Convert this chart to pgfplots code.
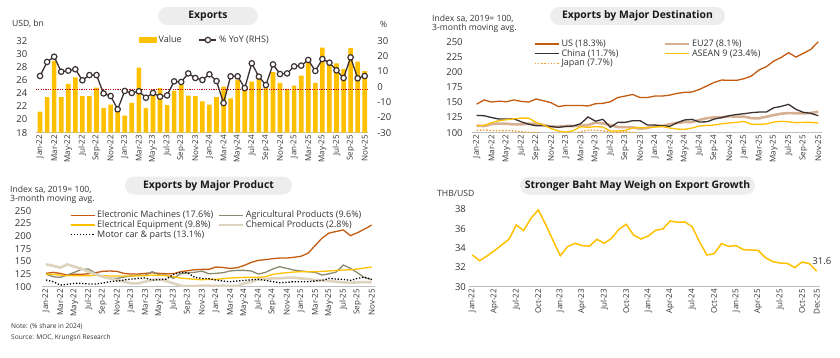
\documentclass[border=0pt]{standalone}
\usepackage{fontspec}
\setmainfont{Open Sans}
\usepackage{pgfplots}
\usepackage{pgfplotstable}
\pgfplotsset{compat=1.18}

\definecolor{gold}{HTML}{FFC000}
\definecolor{darkln}{HTML}{3B3131}
\definecolor{usorange}{HTML}{C55A11}
\definecolor{eutan}{HTML}{D6B092}
\definecolor{japan}{HTML}{ED9A2C}
\definecolor{agri}{HTML}{8B8A6E}
\definecolor{chem}{HTML}{DDD3BE}
\definecolor{titlebg}{HTML}{EDEDED}
\definecolor{axisgray}{HTML}{BFBFBF}
\definecolor{txt}{HTML}{333333}

\pgfplotstableread{
v y
21.2 7.1
23.45 16.3
28.95 19.7
23.45 9.9
25.45 10.6
26.45 11.5
23.6 4.3
23.6 7.7
24.9 7.7
21.8 -4.3
22.3 -6.0
21.6 -14.7
20.6 -2.7
22.55 -4.0
27.95 -2.9
21.8 -7.1
24.0 -4.0
24.8 -6.4
22.2 -5.6
24.4 3.6
25.3 3.2
23.65 8.8
23.6 5.8
22.8 4.5
22.3 8.2
23.45 3.8
25.05 -10.6
23.25 6.9
26.1 6.9
24.6 -0.8
25.8 15.4
26.2 6.7
25.6 1.2
27.25 14.7
25.6 8.4
24.7 8.8
25.2 13.4
26.7 13.9
28.8 17.6
25.6 10.4
31.0 18.2
28.3 15.8
28.6 10.8
27.7 5.8
30.9 19.3
28.85 5.6
27.4 7.1
}\exportsdata

\pgfplotstableread{
us eu cn as jp
147 111.5 128.6 112 104
154 111 128 112 104.5
150.5 114 125 116.5 103.5
152 115 122.5 119.8 103.5
151 114.8 122.5 121.4 103.5
154 113.7 123 123 103
151.6 113.7 118 124 101.5
150.5 114.8 114 124 100.5
155.5 114.8 111.5 117 100.2
152.7 112.6 111.5 112.6 98
149.5 110 110.4 107 96
143 110 108.8 102.7 95
145 111 110.4 101 95
145 111 111 103.3 97
145 111.5 114.8 110 102
144 112.6 126 108.8 104
147.8 116.5 119 110 104
148.4 115.4 122 109.3 103
151 112.6 109 102.7 101
158 109.3 117 102.7 100.5
160.4 109.3 117 103.8 101.5
163 108.8 119.8 107.7 100.3
158 106.6 119.8 108.2 98
158 108 112.6 108.2 97
160.4 111 112.6 109.3 96
160.4 111 111.5 110.4 95
162 114 110.4 107.7 95
164.8 116 116.5 106 94
166.5 117.6 121 105.5 94
167 117.6 122 107.7 94
171.4 121 117.6 111 94
177 124 118 112 94
183 125.3 122.5 112.6 94
186.8 125.3 125 114.8 94
186.3 127 128 116 94
186.3 126.4 130 117 94
189 126.4 131.3 118.7 94
193.4 124 133 114 94
203.3 123.6 134 113.7 94
208.8 126.4 134 114.3 94
218 129 141 117.6 94
224 131.3 143.4 118.7 94
231.9 132.4 146.7 118 94
224.7 132 138.5 116.5 94
230.8 132 133.5 117 94
237.4 132.4 132 117 94
250 134.6 128 116 94
}\destdata

\pgfplotstableread{
em ag ee ch mc
126.3 125 124.3 144 113.2
128.3 119.7 124.3 141.4 109.9
126.3 118.4 123 137.5 103.3
123 123 121.7 144 104.6
124.3 128.3 121.7 139.5 106.6
124.3 134.2 121.7 135.5 106.6
125.6 134.9 121.7 129.6 105.3
127.6 126.3 122.4 124.3 105.3
130.3 119.7 121.7 119.7 107.2
131 116.4 121 116.4 109.9
130.3 116.4 121 113.2 111.2
126.3 119 121 109.9 113.2
125 121 121 106.6 115.1
125 122.4 121.7 106.6 116.4
126.3 122.4 121.7 109.9 117.1
127.6 129.6 123 113.2 113.2
126.3 123 122.4 115.1 113.8
125.6 123 121.7 111.2 115.1
125.6 116.4 119.7 106.6 124.3
129.6 125.6 117.1 102 128.3
131.6 127.6 115.8 100.8 127.6
133.5 128.3 114.5 101.3 118.4
134.2 131 113.8 102 116.4
134.2 125.6 114.5 102 115.8
138.8 126.3 114.5 101.3 113.2
138 127.6 115.8 102 111.2
136 131 117.1 101.3 109.9
137.5 132.2 117.8 101.3 111.2
142 132.2 118.4 106.6 112.5
148 131 118.4 109.9 113.8
152 125 118.4 114.5 114.5
153.3 128.3 119.7 115.1 112.5
155.3 134.9 124.3 116.4 109.9
156.6 139.5 126.3 116.4 107.9
156.6 136.2 127.6 117.8 108.6
158 132.9 129 117.8 109.9
160 131 129.6 116.4 109.9
166 129.6 129.6 115.1 109.9
181 128.3 129.6 113.2 111.2
196 123 130.3 112.5 112.5
206 125.6 131 111.2 116.4
209 129 132.2 109.9 115.1
212 142.8 132.9 108.6 114.5
200.7 136.2 133.5 107.9 112.5
206.6 127.6 134.9 108.6 116.4
213.8 117.8 136.8 109.2 119
221.7 114.5 138.8 108.6 113.8
}\proddata

\pgfplotstableread{
fx
33.28
32.69
33.17
33.72
34.31
34.9
36.38
35.8
37.07
37.93
36.45
34.8
33.2
34.14
34.48
34.24
34.2
34.9
34.48
35.0
35.93
36.45
35.34
34.93
35.24
35.83
35.97
36.79
36.66
36.69
36.2
34.66
33.28
33.41
34.45
34.17
34.24
33.83
33.79
33.76
33.0
32.59
32.45
32.41
31.97
32.55
32.38
31.6
}\fxdata

\pgfplotsset{
  panel/.style={
    scale only axis,
    axis x line*=bottom, axis y line*=left,
    axis line style={-},
    x axis line style={draw=axisgray, line width=0.8pt},
    y axis line style={draw=none},
    major tick length=0pt,
    tick style={draw=none},
    xticklabel style={rotate=90, anchor=east, font=\fontsize{8}{9}\selectfont, text=txt, inner sep=2pt},
    yticklabel style={font=\fontsize{9.5}{10}\selectfont, text=txt},
    /pgf/number format/assume math mode=true,
    legend style={draw=none, fill=none, font=\fontsize{9}{10}\selectfont, text=txt},
    legend cell align=left,
  },
  bimonth/.style={
    xtick={0,2,...,46},
    xticklabels={Jan-22,Mar-22,May-22,Jul-22,Sep-22,Nov-22,Jan-23,Mar-23,May-23,Jul-23,Sep-23,Nov-23,Jan-24,Mar-24,May-24,Jul-24,Sep-24,Nov-24,Jan-25,Mar-25,May-25,Jul-25,Sep-25,Nov-25},
  },
  longleg/.style={
    legend image code/.code={\draw[##1] plot coordinates {(0pt,0pt) (24pt,0pt)};}
  },
}

\begin{document}
\begin{tikzpicture}
\useasboundingbox (0pt,0pt) rectangle (840pt,357pt);

% ---------- Panel 1: Exports ----------
\begin{axis}[panel, bimonth,
  at={(35.8pt,224.3pt)}, anchor=south west,
  width=332.1pt, height=91.7pt,
  xmin=-0.6, xmax=46.45, ymin=18, ymax=32,
  ytick={18,20,...,32},
  yticklabel style={xshift=-5pt},
  ybar, bar width=4.6pt]
\addplot[fill=gold, draw=none] table[x expr=\coordindex, y=v] {\exportsdata};
\end{axis}
\begin{axis}[panel,
  at={(35.8pt,224.3pt)}, anchor=south west,
  width=332.1pt, height=91.7pt,
  xmin=-0.6, xmax=46.45, ymin=-30, ymax=30,
  axis x line=none, axis y line*=right,
  xtick=\empty,
  ytick={-30,-20,...,30},
  yticklabel style={xshift=6pt},
  clip=false,
  legend columns=2,
  legend style={at={(0.5095,1.011)}, anchor=center,
    /tikz/every even column/.append style={column sep=15pt}}]
\addplot[red!80!black, dash pattern=on 1.2pt off 1.2pt, line width=0.5pt, forget plot] coordinates {(-0.6,-1.5) (46.45,-1.5)};
\addlegendimage{legend image code/.code={\fill[gold] (0pt,-2.6pt) rectangle (17pt,2.6pt);}}
\addlegendentry{Value}
\addplot[darkln, line width=1.3pt, mark=*, mark size=2.7pt,
  mark options={fill=white, draw=darkln, line width=1.2pt}] table[x expr=\coordindex, y=y] {\exportsdata};
\addlegendentry{\% YoY (RHS)}
\end{axis}

% ---------- Panel 2: Destination ----------
\begin{axis}[panel, bimonth, longleg,
  at={(472.2pt,224.3pt)}, anchor=south west,
  width=349.4pt, height=91pt,
  xmin=-0.6, xmax=46.45, ymin=100, ymax=250,
  ytick={100,125,...,250},
  yticklabel style={xshift=-6pt},
  legend columns=2,
  legend style={at={(0.168,1.065)}, anchor=north west, row sep=-2.5pt,
    /tikz/every even column/.append style={column sep=43pt}}]
\addplot[usorange, line width=1.3pt] table[x expr=\coordindex, y=us] {\destdata};
\addlegendentry{US (18.3\%)}
\addplot[eutan, line width=2.6pt] table[x expr=\coordindex, y=eu] {\destdata};
\addlegendentry{EU27 (8.1\%)}
\addplot[darkln, line width=1.3pt] table[x expr=\coordindex, y=cn] {\destdata};
\addlegendentry{China (11.7\%)}
\addplot[gold, line width=1.3pt] table[x expr=\coordindex, y=as] {\destdata};
\addlegendentry{ASEAN 9 (23.4\%)}
\addplot[japan, line width=1.4pt, dash pattern=on 1.4pt off 1.8pt] table[x expr=\coordindex, y=jp] {\destdata};
\addlegendentry{Japan (7.7\%)}
\end{axis}

% ---------- Panel 3: Product ----------
\begin{axis}[panel, bimonth, longleg,
  at={(41.75pt,70.3pt)}, anchor=south west,
  width=333.1pt, height=76pt,
  xmin=-0.6, xmax=46.45, ymin=100, ymax=250,
  ytick={100,125,...,250},
  yticklabel style={xshift=-7pt},
  legend columns=2,
  legend style={at={(0.075,1.05)}, anchor=north west, row sep=-2.5pt,
    /tikz/every even column/.append style={column sep=2pt}}]
\addplot[usorange, line width=1.3pt] table[x expr=\coordindex, y=em] {\proddata};
\addlegendentry{Electronic Machines (17.6\%)}
\addplot[agri, line width=1.3pt] table[x expr=\coordindex, y=ag] {\proddata};
\addlegendentry{Agricultural Products (9.6\%)}
\addplot[gold, line width=1.3pt] table[x expr=\coordindex, y=ee] {\proddata};
\addlegendentry{Electrical Equipment (9.8\%)}
\addplot[chem, line width=2.6pt] table[x expr=\coordindex, y=ch] {\proddata};
\addlegendentry{Chemical Products (2.8\%)}
\addplot[black, line width=1.3pt, dash pattern=on 1.3pt off 1.8pt] table[x expr=\coordindex, y=mc] {\proddata};
\addlegendentry{Motor car \& parts (13.1\%)}
\end{axis}

% ---------- Panel 4: Baht ----------
\begin{axis}[panel,
  at={(469.4pt,70.3pt)}, anchor=south west,
  width=350.6pt, height=77.4pt,
  xmin=-0.4, xmax=47.45, ymin=30, ymax=38,
  ytick={30,32,...,38},
  xtick={0,3,...,45,47},
  xticklabels={Jan-22,Apr-22,Jul-22,Oct-22,Jan-23,Apr-23,Jul-23,Oct-23,Jan-24,Apr-24,Jul-24,Oct-24,Jan-25,Apr-25,Jul-25,Oct-25,Dec-25},
  clip=false]
\addplot[gold, line width=1.5pt] table[x expr=\coordindex, y=fx] {\fxdata};
\node[font=\fontsize{9.5}{10}\selectfont, text=txt] at (axis cs:47.7,32.66) {31.6};
\end{axis}

% ---------- Titles and labels ----------
\tikzset{ttl/.style={fill=titlebg, rounded corners=9pt, minimum height=18pt, inner sep=2pt,
  font=\bfseries\fontsize{10.4}{12}\selectfont, text=black!90}}
\node[ttl, minimum width=100pt] at (208pt,341pt) {Exports};
\node[ttl, minimum width=175pt] at (637.5pt,341pt) {Exports by Major Destination};
\node[ttl, minimum width=167pt] at (208.5pt,171.5pt) {Exports by Major Product};
\node[ttl, minimum width=235pt] at (637.5pt,171.5pt) {Stronger Baht May Weigh on Export Growth};

\tikzset{lbl/.style={anchor=west, inner sep=0pt, font=\fontsize{8.6}{9}\selectfont, text=txt}}
\node[lbl] at (12pt,333pt) {USD, bn};
\node[lbl] at (380pt,333pt) {\%};
\node[lbl] at (432pt,338pt) {Index sa, 2019= 100,};
\node[lbl] at (432pt,328.3pt) {3-month moving avg.};
\node[lbl] at (10pt,167pt) {Index sa, 2019= 100,};
\node[lbl] at (10pt,157.7pt) {3-month moving avg.};
\node[lbl] at (437pt,163.7pt) {THB/USD};
\node[lbl, font=\fontsize{6.6}{7}\selectfont] at (11pt,30.3pt) {Note: (\% share in 2024)};
\node[lbl, font=\fontsize{6.6}{7}\selectfont] at (11pt,19.7pt) {Source: MOC, Krungsri Research};
\end{tikzpicture}
\end{document}
